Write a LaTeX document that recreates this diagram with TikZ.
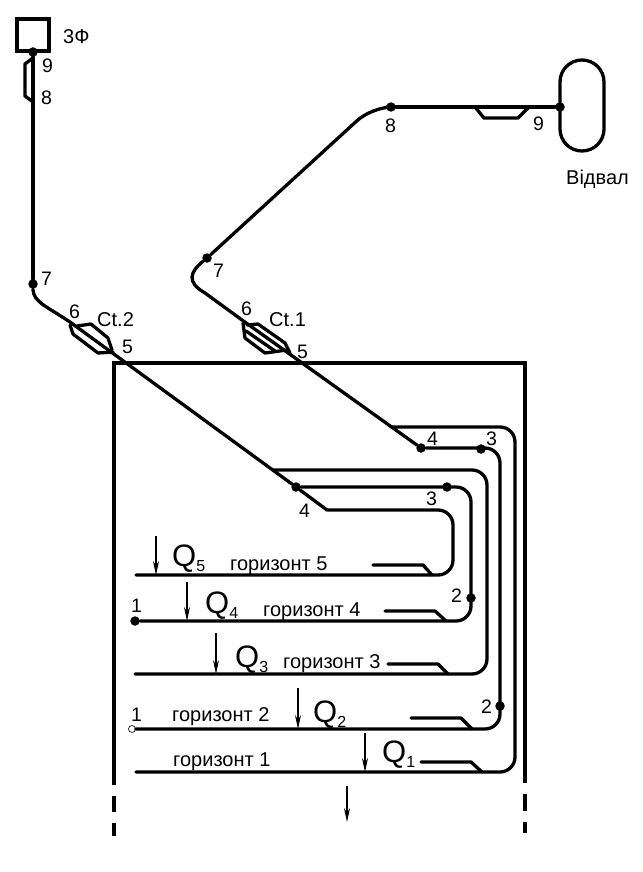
\documentclass[tikz,border=0pt]{standalone}
\usepackage{fontspec}
\setmainfont{Liberation Sans}
\usetikzlibrary{arrows.meta,positioning,calc}
\tikzset{
  track/.style={line width=3.3pt,line join=round,line cap=round},
  wall/.style={line width=3.3pt},
  flow/.style={-{Stealth[length=14pt,width=6pt]},line width=1.1pt},
  pt/.style={circle,fill=black,inner sep=0pt,minimum size=9.5pt},
  num/.style={anchor=base west,inner sep=0pt,font=\fontsize{19.5}{19.5}\selectfont},
  lab/.style={anchor=base west,inner sep=0pt,font=\fontsize{20}{20}\selectfont},
  qlab/.style={anchor=base west,inner sep=0pt,font=\fontsize{31}{31}\selectfont},
}
\newcommand{\qsub}[1]{Q\raisebox{-5pt}{\fontsize{16}{16}\selectfont #1}}
\begin{document}
\begin{tikzpicture}[x=1pt,y=-1pt]
\useasboundingbox (0,0) rectangle (642,872);
% junction points
\node[pt] (ph) at (33,52) {};
\node[pt] (s7a) at (33,284) {};
\node[pt] (s4a) at (296,487) {};
\node[pt] (s3a) at (447,487) {};
\node[pt] (s2a) at (471,598) {};
\node[pt] (s1a) at (135,621) {};
\node[pt] (s4b) at (421,448) {};
\node[pt] (s3b) at (481,449) {};
\node[pt] (s2b) at (500,706) {};
\node[pt] (s8b) at (391,107) {};
\node[pt] (s7b) at (207,258) {};
\node[pt] (dump) at (560,107) {};
\node[circle,draw,fill=white,inner sep=0pt,minimum size=7pt,line width=.6pt] (s1b) at (132,729) {};
% mine outline
\draw[wall] (114,785)--(114,363)--(525,363)--(525,783);
\draw[wall] (114,796)--(114,812) (114,823)--(114,836);
\draw[wall] (525,794)--(525,811) (525,822)--(525,833);
% plant and dump
\draw[line width=3.6pt] (17,19) rectangle (49,51);
\draw[track,rounded corners=22pt] (560,60) rectangle (604,151);
% shaft 2
\draw[track] (ph)--(s7a);
\draw[track] (33,58)--(25,64)--(25,96)--(33,102);
\draw[track] (s7a)--(33,290) .. controls (34,302) and (46,306) .. (70,322)--(s4a);
\draw[track] (70,325)--(73,334)--(98,353)--(113,352);
\draw[track] (77,326)--(91,324)--(108,338)--(112,350);
\draw[track] (s4a)--(327,510);
\draw[track,rounded corners=15pt] (327,510)--(453,510)--(453,575)--(136,575);
\draw[track,rounded corners=15pt] (273,470)--(487,470)--(487,674)--(135,674);
\draw[track,rounded corners=15pt] (s4a)--(471,487)--(471,621)--(s1a);
% shaft 1
\draw[track] (s8b)--(dump);
\draw[track] (475,107)--(484,118)--(518,118)--(529,107);
\draw[track,rounded corners=20pt] (s8b)--(372,107)--(s7b);
\draw[track] (s7b) .. controls (190,272) and (186,282) .. (205,293)--(242,320)--(s4b);
\draw[track] (243,323)--(245,338)--(265,353)--(287,350);
\draw[track] (247,325)--(258,324)--(285,343)--(290,353);
\draw[track] (246,331)--(275,351);
\draw[track,rounded corners=15pt] (s4b)--(500,448)--(500,729)--(s1b);
\draw[track,rounded corners=15pt] (391,427)--(515,427)--(515,772)--(136,772);
% ramps to the levels
\draw[track] (373,565)--(423,565)--(432,575);
\draw[track] (385,611)--(435,611)--(446,621);
\draw[track] (388,664)--(438,664)--(448,674);
\draw[track] (411,718)--(461,718)--(472,729);
\draw[track] (421,762)--(471,762)--(482,772);
% arrows
\foreach \ax/\ay/\by in {156/536/575,187/582/621,216/633/674,298/688/729,365/733/772,347/786/822}
  \draw[flow] (\ax,\ay)--(\ax,\by);
% texts
\node[lab] (t3f) at (63,44) {3Ф};
\node[lab] (tdump) at (566,184) {Відвал};
\node[lab] (tct2) at (97,326) {Ct.2};
\node[lab] (tct1) at (269,326) {Ct.1};
\foreach \nx/\ny/\nt [count=\ni] in {42/73/9,41/105/8,41/285/7,69/318/6,122/353/5,213/277/7,241/315/6,297/358/5,385/132/8,533/130/9,427/445/4,486/445/3,299/517/4,426/505/3,451/602/2,481/713/2,131/612/1,131/721/1}
  \node[num] (n\ni) at (\nx,\ny) {\nt};
\foreach \nx/\ny/\nt [count=\ni] in {230/570/5,263/616/4,283/668/3,172/721/2,173/766/1}
  \node[lab] (h\ni) at (\nx,\ny) {горизонт \nt};
\foreach \nx/\ny/\nt [count=\ni] in {172/566/5,205/613/4,235/667/3,313/722/2,382/762/1}
  \node[qlab] (q\ni) at (\nx,\ny) {\qsub{\nt}};
\end{tikzpicture}
\end{document}
